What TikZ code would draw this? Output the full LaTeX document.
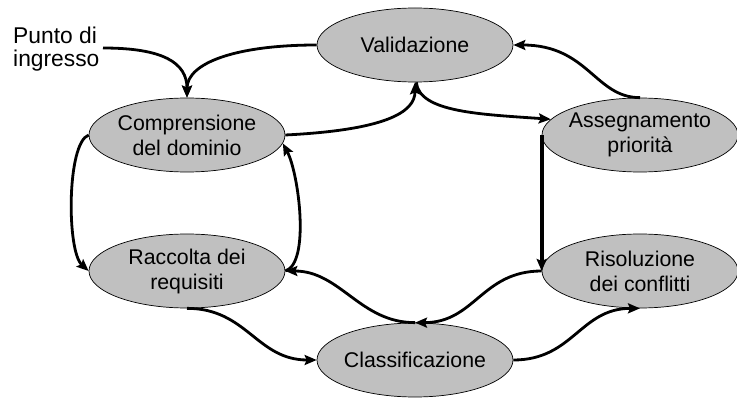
\documentclass[tikz,border=0pt]{standalone}
\usepackage{fontspec}
\setmainfont{Liberation Sans}
\usetikzlibrary{shapes.geometric,arrows.meta}
\definecolor{procgray}{RGB}{192,192,192}
\begin{document}
\begin{tikzpicture}[x=1pt,y=-1pt,
  proc/.style={ellipse, draw=black, line width=0.7pt, fill=procgray,
    minimum width=196pt, minimum height=74pt, inner xsep=-6pt, inner ysep=0pt,
    align=center, font=\fontsize{21.3}{25}\selectfont},
  flow/.style={line width=2.8pt, -{Stealth[length=12pt,width=10pt,inset=2pt]}},
  entrytext/.style={inner sep=0pt, align=left, anchor=north west,
    font=\fontsize{22.8}{22.5}\selectfont}
]
\useasboundingbox (0,0) rectangle (737,398);

\node[proc] (vali) at (415,45)  {Validazione};
\node[proc] (comp) at (187,135) {Comprensione\\del dominio};
\node[proc] (racc) at (187,271) {Raccolta dei\\requisiti};
\node[proc] (clas) at (415,360) {Classificazione};
\node[proc] (asse) at (640,135) {Assegnamento\\priorità};
\node[proc] (riso) at (640,271) {Risoluzione\\dei conflitti};

\node[entrytext] (entry) at (13,27) {Punto di\\ingresso};
\coordinate (inA) at (103,48);

\draw[flow] (inA) .. controls +(60,0) and +(0,-35) .. (comp.north);
\draw[flow] (vali.west) .. controls +(-80,0) and +(0,-35) .. (comp.north);
\draw[flow] (comp.east) .. controls +(100,-5) and +(0,30) .. (vali.south);
\draw[flow] (vali.-88) .. controls +(3,30) and +(-70,-5) .. (asse.170);
\draw[flow] (asse.north) .. controls +(-45,0) and +(75,0) .. (vali.east);
\draw[flow, line width=4.2pt] (asse.west) -- (riso.west);
\draw[flow] (riso.west) .. controls +(-60,0) and +(60,0) .. (clas.north);
\draw[flow] (clas.north) .. controls +(-55,0) and +(55,0) .. (racc.east);
\draw[flow] (clas.east) .. controls +(60,0) and +(-60,0) .. (riso.south);
\draw[flow] (racc.south) .. controls +(60,0) and +(-60,0) .. (clas.west);
\draw[flow] (comp.west) .. controls +(-22,8) and +(-22,-20) .. (racc.west);
\draw[flow] (racc.east) .. controls +(25,-8) and +(16,30) .. (comp.-5);
\end{tikzpicture}
\end{document}
